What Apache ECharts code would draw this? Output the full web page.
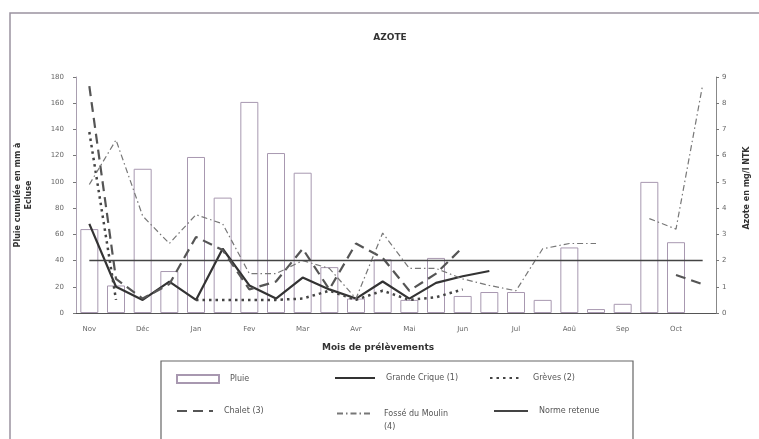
<!DOCTYPE html>
<html lang="fr">
<head>
    <meta charset="UTF-8">
    <title>Azote</title>
    <style>
        html, body { margin: 0; padding: 0; background: #fff; }
        #main { width: 759px; height: 439px; }
    </style>
</head>
<body>
    <div id="main"></div>
    <script src="https://cdn.jsdelivr.net/npm/echarts@6/dist/echarts.min.js"></script>
    <script>
        const myChart = echarts.init(document.getElementById('main'));

        // one category per half-month, label only on the first half
        const months = ['Nov', 'Déc', 'Jan', 'Fev', 'Mar', 'Avr', 'Mai', 'Jun', 'Jul', 'Aoû', 'Sep', 'Oct'];
        const categories = months.flatMap(m => [m, m + ' (15)']);

        // rain, mm (left axis)
        const pluie = [64, 21, 110, 32, 119, 88, 161, 122, 107, 35, 11, 41,
                       10, 42, 13, 16, 16, 10, 50, 3, 7, 100, 54, null];

        // nitrogen, mg/l NTK (right axis)
        const grandeCrique = [3.4, 1.0, 0.5, 1.2, 0.5, 2.45, 1.05, 0.55, 1.35, 0.9, 0.55, 1.2,
                              0.55, 1.15, 1.4, 1.6, null, null, null, null, null, null, null, null];
        const greves = [6.9, 0.5, null, null, 0.5, 0.5, 0.5, 0.5, 0.55, 0.85, 0.5, 0.85,
                        0.5, 0.6, 0.9, null, null, null, null, null, null, null, null, null];
        const chalet = [8.65, 1.3, 0.55, 1.1, 2.9, 2.4, 0.9, 1.2, 2.45, 0.9, 2.65, 2.1,
                        0.85, 1.5, 2.5, null, null, null, null, null, null, null, 1.45, 1.1];
        const fosse = [4.9, 6.6, 3.7, 2.65, 3.75, 3.4, 1.5, 1.5, 2.0, 1.7, 0.55, 3.05,
                       1.7, 1.7, 1.3, 1.05, 0.85, 2.45, 2.65, 2.65, null, 3.6, 3.2, 8.7];
        const norme = categories.map(() => 2);

        const labelColor = '#666';
        const legendText = { color: '#555', fontSize: 8, fontFamily: 'DejaVu Sans', padding: [0, 0, 0, 6] };
        // hide the little symbol ECharts puts in the middle of line legend icons
        const noSymbol = { color: 'rgba(0,0,0,0)', borderColor: 'rgba(0,0,0,0)', borderWidth: 0 };

        const lineSeries = (name, data, color, lineStyle) => ({
            name, type: 'line', yAxisIndex: 1, data,
            symbol: 'none',
            itemStyle: { color },
            lineStyle: Object.assign({ color }, lineStyle)
        });

        const option = {
            animation: false,
            title: {
                text: 'AZOTE',
                left: 385,
                textAlign: 'center',
                top: 28,
                textStyle: { fontSize: 9, fontWeight: 'bold', color: '#333', fontFamily: 'DejaVu Sans' }
            },
            grid: { left: 76, right: 32, top: 77, bottom: 126 },
            legend: [
                { data: ['Pluie'], left: 171, top: 369, icon: 'rect', itemWidth: 42, itemHeight: 8, textStyle: legendText },
                { data: ['Grande Crique (1)'], left: 329, top: 369, itemWidth: 40, itemHeight: 8, itemStyle: noSymbol, textStyle: legendText },
                { data: ['Grèves (2)'], left: 484, top: 369, itemWidth: 32, itemHeight: 8, itemStyle: noSymbol, textStyle: legendText },
                { data: ['Chalet (3)'], left: 171, top: 402, itemWidth: 36, itemHeight: 8, itemStyle: noSymbol, textStyle: legendText },
                {
                    // empty first line keeps the icon level with "Fossé du Moulin"
                    data: ['Fossé du Moulin (4)'], left: 331, top: 389, itemWidth: 36, itemHeight: 8, itemStyle: noSymbol,
                    formatter: () => ' \nFossé du Moulin\n(4)',
                    textStyle: Object.assign({}, legendText, { lineHeight: 13 })
                },
                { data: ['Norme retenue'], left: 488, top: 402, itemWidth: 34, itemHeight: 8, itemStyle: noSymbol, textStyle: legendText }
            ],
            graphic: [
                {
                    type: 'rect', silent: true,
                    shape: { x: 10, y: 13, width: 800, height: 500 },
                    style: { fill: null, stroke: '#9a92a0', lineWidth: 1.5 }
                },
                {
                    type: 'rect', silent: true,
                    shape: { x: 161, y: 361, width: 472, height: 100 },
                    style: { fill: null, stroke: '#666', lineWidth: 1.2 }
                }
            ],
            xAxis: {
                type: 'category',
                data: categories,
                name: 'Mois de prélèvements',
                nameLocation: 'middle',
                nameGap: 30,
                nameTextStyle: { fontSize: 9, fontWeight: 'bold', color: '#333', fontFamily: 'DejaVu Sans', padding: [0, 36, 0, 0] },
                axisLine: { lineStyle: { color: '#555', width: 1.2 } },
                axisTick: { interval: 0, length: 3, lineStyle: { color: '#777' } },
                axisLabel: { interval: 1, fontSize: 7, color: labelColor, margin: 13, fontFamily: 'DejaVu Sans' }
            },
            yAxis: [
                {
                    type: 'value',
                    min: 0, max: 180, interval: 20,
                    name: 'Pluie cumulée en mm à\nEcluse',
                    nameLocation: 'middle',
                    nameGap: 42,
                    nameTextStyle: { fontSize: 8, fontWeight: 'bold', color: '#333', lineHeight: 11, fontFamily: 'DejaVu Sans' },
                    splitLine: { show: false },
                    axisLine: { show: true, lineStyle: { color: '#a99fb0' } },
                    axisTick: { show: true, length: 3, lineStyle: { color: '#777' } },
                    axisLabel: { fontSize: 7, color: labelColor, margin: 12, fontFamily: 'DejaVu Sans' }
                },
                {
                    type: 'value',
                    position: 'right',
                    min: 0, max: 9, interval: 1,
                    name: 'Azote en mg/l NTK',
                    nameLocation: 'middle',
                    nameRotate: 90,
                    nameGap: 27,
                    nameTextStyle: { fontSize: 8, fontWeight: 'bold', color: '#333', fontFamily: 'DejaVu Sans', padding: [0, 0, 0, 14] },
                    splitLine: { show: false },
                    axisLine: { show: true, lineStyle: { color: '#888' } },
                    axisTick: { show: true, length: 3, lineStyle: { color: '#777' } },
                    axisLabel: { fontSize: 7, color: labelColor, margin: 6, fontFamily: 'DejaVu Sans' }
                }
            ],
            series: [
                {
                    name: 'Pluie', type: 'bar', yAxisIndex: 0, data: pluie, barWidth: 18,
                    itemStyle: { color: '#fff', borderColor: '#a898b0', borderWidth: 1 }
                },
                lineSeries('Grande Crique (1)', grandeCrique, '#333', { width: 2.2 }),
                lineSeries('Grèves (2)', greves, '#444', { width: 2.5, type: [2.5, 4] }),
                lineSeries('Chalet (3)', chalet, '#555', { width: 2.2, type: [10, 6] }),
                lineSeries('Fossé du Moulin (4)', fosse, '#777', { width: 1.2, type: [6, 3, 1.5, 3] }),
                lineSeries('Norme retenue', norme, '#444', { width: 1.5 })
            ]
        };

        myChart.setOption(option);
    </script>
</body>
</html>
